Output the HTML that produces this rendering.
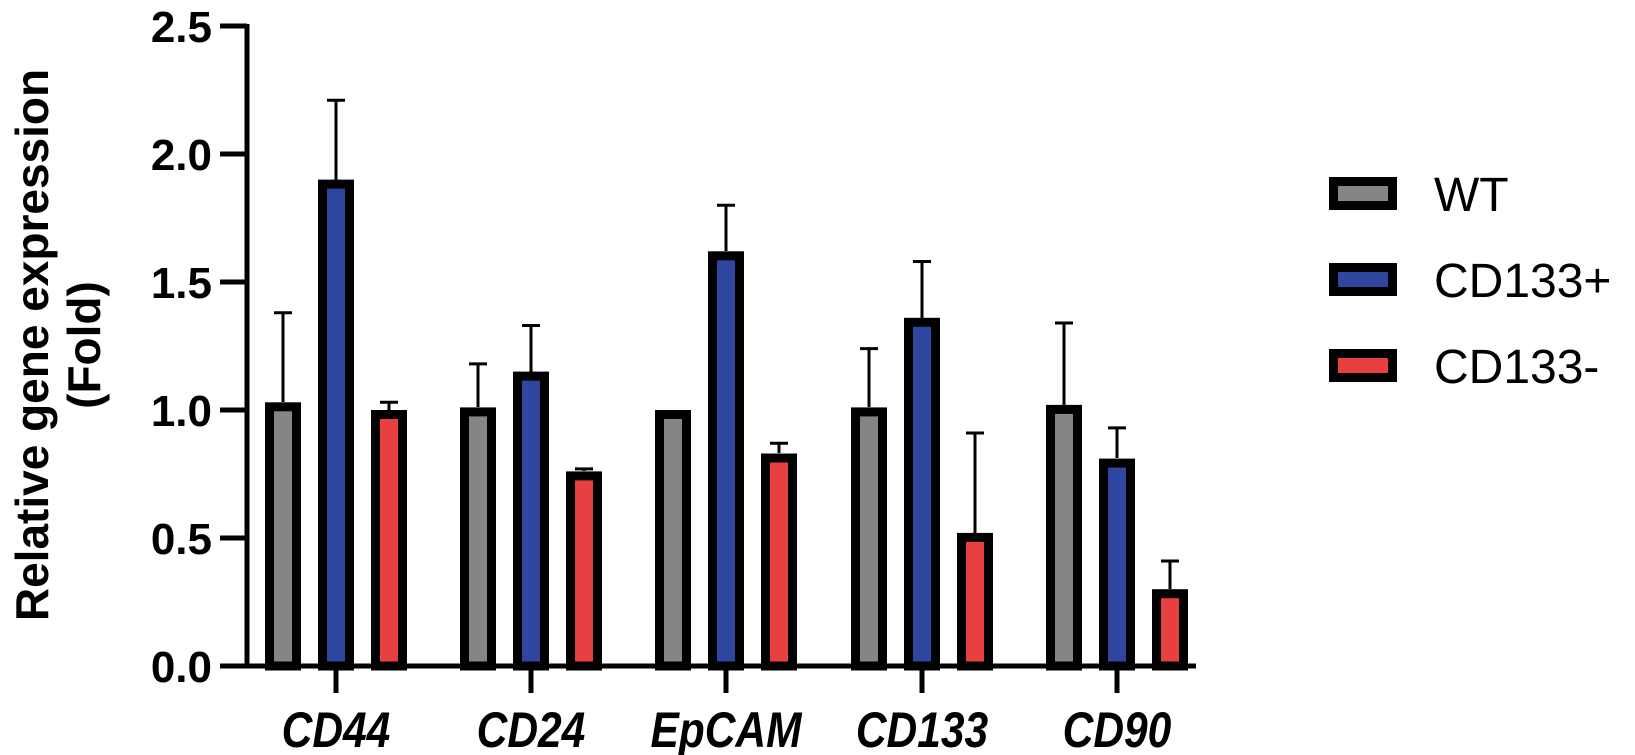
<!DOCTYPE html>
<html><head><style>body{margin:0;background:#fff}svg{display:block}</style></head><body>
<svg width="1635" height="755" xmlns="http://www.w3.org/2000/svg" font-family="Liberation Sans, Arial, sans-serif">
<g stroke="#000" stroke-width="5" fill="none">
<line x1="247" y1="24" x2="247" y2="668"/>
<line x1="245" y1="666" x2="1196" y2="666"/>
<line x1="220" y1="26" x2="247" y2="26"/>
<line x1="220" y1="154" x2="247" y2="154"/>
<line x1="220" y1="282" x2="247" y2="282"/>
<line x1="220" y1="410" x2="247" y2="410"/>
<line x1="220" y1="538" x2="247" y2="538"/>
<line x1="220" y1="666" x2="247" y2="666"/>
<line x1="336" y1="666" x2="336" y2="693"/>
<line x1="531" y1="666" x2="531" y2="693"/>
<line x1="726" y1="666" x2="726" y2="693"/>
<line x1="922" y1="666" x2="922" y2="693"/>
<line x1="1117" y1="666" x2="1117" y2="693"/>
</g>
<g font-size="44" font-weight="bold" text-anchor="end" fill="#000">
<text x="212" y="42">2.5</text><text x="212" y="170">2.0</text><text x="212" y="298">1.5</text>
<text x="212" y="426">1.0</text><text x="212" y="554">0.5</text><text x="212" y="682">0.0</text>
</g>
<g font-size="46" font-weight="bold" text-anchor="middle">
<text transform="translate(48,345) rotate(-90)">Relative gene expression</text>
<text transform="translate(100,345) rotate(-90)">(Fold)</text>
</g>
<g font-size="50" font-weight="bold" font-style="italic" text-anchor="middle" transform="scale(0.85,1)">
<text x="395.3" y="747">CD44</text><text x="624.7" y="747">CD24</text><text x="854.1" y="747">EpCAM</text>
<text x="1084.7" y="747">CD133</text><text x="1314.1" y="747">CD90</text>
</g>
<g stroke="#000" stroke-width="3">
<line x1="283" x2="283" y1="402" y2="312.7"/><line x1="274" x2="292" y1="312.7" y2="312.7"/>
<line x1="336" x2="336" y1="180" y2="100.2"/><line x1="327" x2="345" y1="100.2" y2="100.2"/>
<line x1="389" x2="389" y1="410" y2="402.3"/><line x1="380" x2="398" y1="402.3" y2="402.3"/>
<line x1="478" x2="478" y1="407" y2="363.9"/><line x1="469" x2="487" y1="363.9" y2="363.9"/>
<line x1="531" x2="531" y1="372" y2="325.5"/><line x1="522" x2="540" y1="325.5" y2="325.5"/>
<line x1="584" x2="584" y1="471" y2="468.9"/><line x1="575" x2="593" y1="468.9" y2="468.9"/>
<line x1="726" x2="726" y1="251" y2="205.2"/><line x1="717" x2="735" y1="205.2" y2="205.2"/>
<line x1="779" x2="779" y1="453" y2="443.3"/><line x1="770" x2="788" y1="443.3" y2="443.3"/>
<line x1="869" x2="869" y1="407" y2="348.6"/><line x1="860" x2="878" y1="348.6" y2="348.6"/>
<line x1="922" x2="922" y1="318" y2="261.5"/><line x1="913" x2="931" y1="261.5" y2="261.5"/>
<line x1="975" x2="975" y1="533" y2="433"/><line x1="966" x2="984" y1="433" y2="433"/>
<line x1="1064" x2="1064" y1="405" y2="323"/><line x1="1055" x2="1073" y1="323" y2="323"/>
<line x1="1117" x2="1117" y1="458" y2="427.9"/><line x1="1108" x2="1126" y1="427.9" y2="427.9"/>
<line x1="1170" x2="1170" y1="589" y2="561"/><line x1="1161" x2="1179" y1="561" y2="561"/>
</g>
<g stroke="#000" stroke-width="9">
<rect x="269.5" y="406.8" width="27" height="259.2" fill="#858585"/>
<rect x="322.5" y="184.1" width="27" height="481.9" fill="#2e46a0"/>
<rect x="375.5" y="414.5" width="27" height="251.5" fill="#e84040"/>
<rect x="464.5" y="411.9" width="27" height="254.1" fill="#858585"/>
<rect x="517.5" y="376.1" width="27" height="289.9" fill="#2e46a0"/>
<rect x="570.5" y="475.9" width="27" height="190.1" fill="#e84040"/>
<rect x="659.5" y="414.5" width="27" height="251.5" fill="#858585"/>
<rect x="712.5" y="255.8" width="27" height="410.2" fill="#2e46a0"/>
<rect x="765.5" y="458" width="27" height="208" fill="#e84040"/>
<rect x="855.5" y="411.9" width="27" height="254.1" fill="#858585"/>
<rect x="908.5" y="322.3" width="27" height="343.7" fill="#2e46a0"/>
<rect x="961.5" y="537.4" width="27" height="128.6" fill="#e84040"/>
<rect x="1050.5" y="409.4" width="27" height="256.6" fill="#858585"/>
<rect x="1103.5" y="463.1" width="27" height="202.9" fill="#2e46a0"/>
<rect x="1156.5" y="593.7" width="27" height="72.3" fill="#e84040"/>
</g>
<g stroke="#000" stroke-width="9">
<rect x="1333.5" y="181.5" width="59" height="24" fill="#858585"/>
<rect x="1333.5" y="267.5" width="59" height="24" fill="#2e46a0"/>
<rect x="1333.5" y="353.5" width="59" height="24" fill="#e84040"/>
</g>
<g font-size="48">
<text x="1434" y="211">WT</text><text x="1434" y="297">CD133+</text><text x="1434" y="383">CD133-</text>
</g>
</svg>
</body></html>
